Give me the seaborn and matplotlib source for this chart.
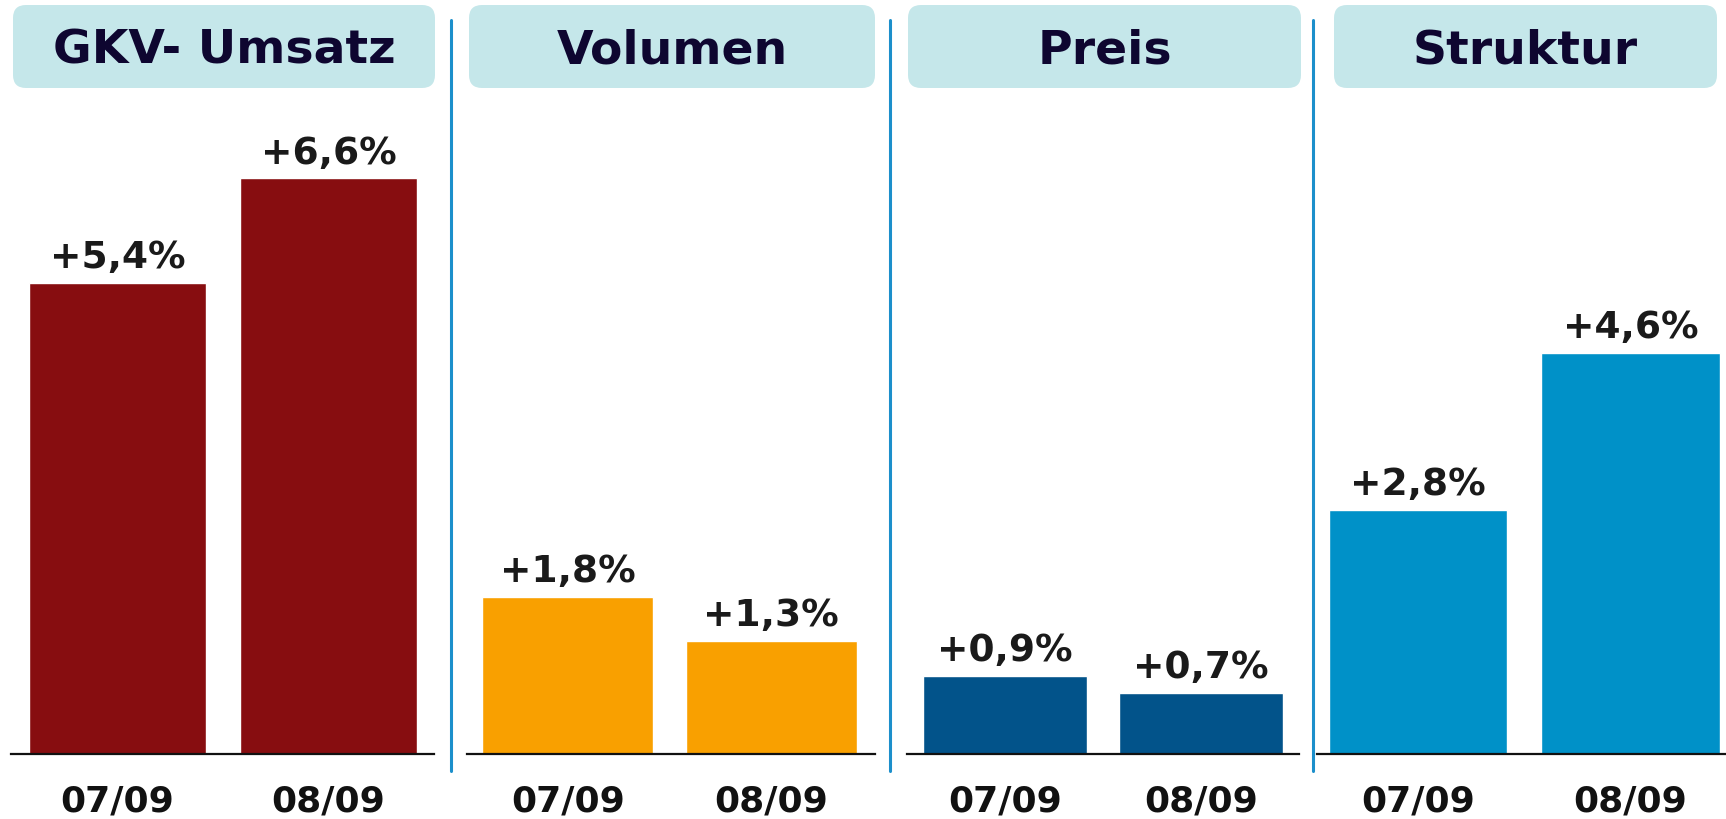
import matplotlib
matplotlib.use("Agg")
import matplotlib.pyplot as plt
from matplotlib.patches import FancyBboxPatch
from matplotlib.lines import Line2D
import pandas as pd
import seaborn as sns

# data
categories = ["07/09", "08/09"]
titles = ["GKV- Umsatz", "Volumen", "Preis", "Struktur"]
umsatz = [5.4, 6.6]
volumen = [1.8, 1.3]
preis = [0.9, 0.7]
struktur = [2.8, 4.6]
colors = ["#870D10", "#F9A000", "#02538A", "#0091C8"]

W, H = 1726, 819
sns.set_theme(style="white")
plt.rcParams["font.family"] = ["DejaVu Sans"]

fig = plt.figure(figsize=(W / 100, H / 100), dpi=100)

# pixel extents of each panel's baseline (left, right)
panels = [(11, 434), (467, 875), (907, 1299), (1317, 1726)]
xlims = [(-0.505, 1.5), (-0.496, 1.51), (-0.5, 1.5), (-0.476, 1.45)]
boxes = [(13, 435), (469, 875), (908, 1301), (1334, 1717)]
seps = [451, 890, 1313]
base_y = 754
top_y = 100
ymax = (base_y - top_y) / 87.2

series = [umsatz, volumen, preis, struktur]

for i, (vals, title) in enumerate(zip(series, titles)):
    x0, x1 = panels[i]
    ax = fig.add_axes([x0 / W, (H - base_y) / H, (x1 - x0) / W, (base_y - top_y) / H])
    df = pd.DataFrame({"period": categories, "value": vals})
    sns.barplot(data=df, x="period", y="value", color=colors[i], width=0.84,
                saturation=1, ax=ax)
    ax.set_xlim(*xlims[i])
    ax.set_ylim(0, ymax)
    for s in ["top", "left", "right"]:
        ax.spines[s].set_visible(False)
    ax.spines["bottom"].set_color("#111111")
    ax.spines["bottom"].set_linewidth(1.6)
    ax.set_yticks([])
    ax.set_xlabel("")
    ax.set_ylabel("")
    ax.tick_params(axis="x", length=0, pad=22)
    for lab in ax.get_xticklabels():
        lab.set_fontsize(26)
        lab.set_fontweight("bold")
        lab.set_color("#111111")
    for j, v in enumerate(vals):
        ax.annotate("+" + f"{v:.1f}".replace(".", ",") + "%", (j, v),
                    xytext=(0, 5), textcoords="offset points",
                    ha="center", va="bottom", fontsize=27, fontweight="bold",
                    color="#1a1a1a")

    # title box
    bx0, bx1 = boxes[i]
    box = FancyBboxPatch((bx0 / 100, (H - 88) / 100), (bx1 - bx0) / 100, 83 / 100,
                         boxstyle="round,pad=0,rounding_size=0.13",
                         transform=fig.dpi_scale_trans, facecolor="#C5E7EA",
                         edgecolor="none")
    fig.patches.append(box)
    fig.text((bx0 + bx1) / 2 / W, (H - 51) / H, title, ha="center", va="center",
             fontsize=34, fontweight="bold", color="#0E0630")

for sx in seps:
    fig.add_artist(Line2D([sx / W, sx / W], [(H - 771) / H, (H - 20) / H],
                          transform=fig.transFigure, color="#1C8FCB", lw=2.2))

fig.savefig("out.png", dpi=100)
